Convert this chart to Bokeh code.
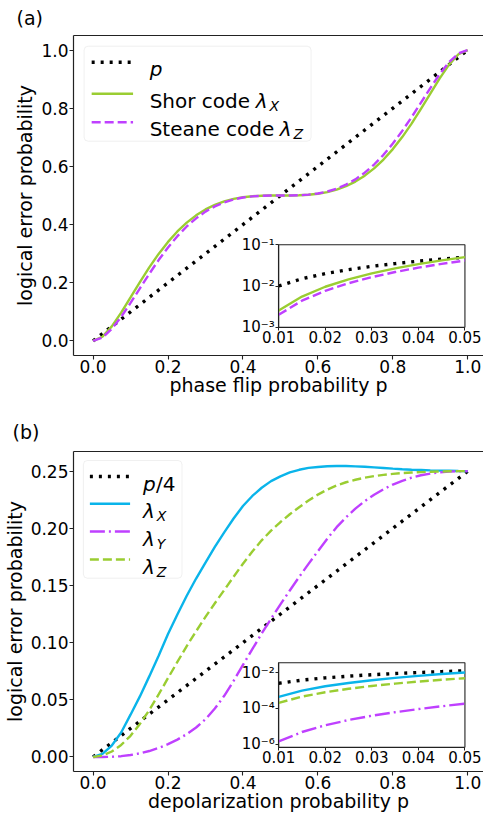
from bokeh.plotting import figure
from bokeh.models import (Range1d, LinearAxis, LogAxis, LogScale, FixedTicker,
                          PrintfTickFormatter, BoxAnnotation)
from bokeh.layouts import column
from bokeh.core.properties import value
from bokeh.embed import file_html
from bokeh.resources import INLINE

FONT = "DejaVu Sans"

# ---------------- data: panel (a) ----------------
pa = [0.0, 0.025, 0.05, 0.075, 0.1, 0.125, 0.15, 0.175, 0.2, 0.225, 0.25, 0.275, 0.3,
      0.325, 0.35, 0.375, 0.4, 0.425, 0.45, 0.475, 0.5, 0.525, 0.55, 0.575, 0.6, 0.625,
      0.65, 0.675, 0.7, 0.725, 0.75, 0.775, 0.8, 0.825, 0.85, 0.875, 0.9, 0.925, 0.95,
      0.975, 1.0]
shor_lx = [0.0, 0.014531, 0.050100, 0.097310, 0.149554, 0.202365, 0.252838, 0.299209,
           0.340519, 0.376370, 0.406738, 0.431845, 0.452066, 0.467863, 0.479755, 0.488282,
           0.494000, 0.497469, 0.499250, 0.499906, 0.5, 0.500094, 0.500750, 0.502531,
           0.506000, 0.511718, 0.520245, 0.532137, 0.547934, 0.568155, 0.593262, 0.623630,
           0.659481, 0.700791, 0.747162, 0.797635, 0.850446, 0.902690, 0.949900, 0.985469, 1.0]
steane_lz = [0.0, 0.011673, 0.041487, 0.082857, 0.130643, 0.180916, 0.230758, 0.278088,
             0.321498, 0.360126, 0.393555, 0.421666, 0.444614, 0.462728, 0.476456, 0.486351,
             0.493005, 0.497047, 0.499124, 0.499893, 0.5, 0.500107, 0.500876, 0.502953,
             0.506995, 0.513649, 0.523544, 0.537272, 0.555386, 0.578334, 0.606445, 0.639874,
             0.678502, 0.721912, 0.769242, 0.819084, 0.869357, 0.917143, 0.958513, 0.988327, 1.0]
pa_line_x = [0.0, 1.0]
pa_line_y = [0.0, 1.0]

ins_x = [0.01, 0.015, 0.02, 0.025, 0.03, 0.035, 0.04, 0.045, 0.05]
ins_a_p = [0.01, 0.015, 0.02, 0.025, 0.03, 0.035, 0.04, 0.045, 0.05]
ins_a_shor = [0.002543, 0.005553, 0.009581, 0.014531, 0.020311, 0.026835, 0.034024, 0.041804, 0.050100]
ins_a_steane = [0.002004, 0.004405, 0.007649, 0.011673, 0.016418, 0.021825, 0.027840, 0.034411, 0.041487]

# ---------------- data: panel (b) ----------------
pb = [0.0, 0.025, 0.05, 0.075, 0.1, 0.125, 0.15, 0.175, 0.2, 0.225, 0.25, 0.275, 0.3,
      0.325, 0.35, 0.375, 0.4, 0.425, 0.45, 0.475, 0.5, 0.525, 0.55, 0.575, 0.6, 0.625,
      0.65, 0.675, 0.7, 0.725, 0.75, 0.775, 0.8, 0.825, 0.85, 0.875, 0.9, 0.925, 0.95,
      0.975, 1.0]
lam_x = [0.0, 0.0027, 0.0100, 0.0214, 0.037, 0.053, 0.0705, 0.0886, 0.1075, 0.1247, 0.141,
         0.1561, 0.1700, 0.1837, 0.1965, 0.2086, 0.2195, 0.2283, 0.2355, 0.2413, 0.2455,
         0.2489, 0.2512, 0.2529, 0.2537, 0.2543, 0.2545, 0.2545, 0.2542, 0.2538, 0.2533,
         0.2528, 0.2522, 0.2517, 0.2513, 0.2510, 0.2507, 0.2505, 0.2503, 0.2501, 0.25]
lam_y = [0.0, 0.00002, 0.00018, 0.0007, 0.0017, 0.0032, 0.0052, 0.0079, 0.0112, 0.0152,
         0.0200, 0.0258, 0.0330, 0.0424, 0.0535, 0.0665, 0.0805, 0.0943, 0.1080, 0.1209,
         0.1335, 0.1456, 0.1575, 0.1689, 0.1800, 0.1909, 0.2010, 0.2096, 0.2172, 0.2238,
         0.2293, 0.2342, 0.2383, 0.2416, 0.2443, 0.2464, 0.2479, 0.2489, 0.2496, 0.2499, 0.25]
lam_z = [0.0, 0.0012, 0.0048, 0.0105, 0.0185, 0.0289, 0.041, 0.0547, 0.069, 0.0831, 0.097,
         0.1100, 0.1225, 0.1345, 0.146, 0.1577, 0.169, 0.1797, 0.1895, 0.1980, 0.2055,
         0.2123, 0.2185, 0.2243, 0.2295, 0.2339, 0.2375, 0.2403, 0.2425, 0.2443, 0.2457,
         0.2468, 0.2476, 0.2483, 0.2488, 0.2492, 0.2495, 0.2497, 0.2499, 0.2500, 0.25]
pb_line_x = [0.0, 1.0]
pb_line_y = [0.0, 0.25]

ins_b_quarter = [0.0025, 0.00375, 0.005, 0.00625, 0.0075, 0.00875, 0.01, 0.01125, 0.0125]
ins_b_lx = [4.3e-4, 9.6e-4, 1.7e-3, 2.6e-3, 3.7e-3, 5.0e-3, 6.5e-3, 8.2e-3, 1.0e-2]
ins_b_ly = [1.4e-6, 4.7e-6, 1.12e-5, 2.2e-5, 3.8e-5, 6.0e-5, 9.0e-5, 1.29e-4, 1.8e-4]
ins_b_lz = [2.0e-4, 4.5e-4, 7.9e-4, 1.23e-3, 1.77e-3, 2.4e-3, 3.1e-3, 3.9e-3, 4.8e-3]

# ---------------- ticks ----------------
xticks = [0.0, 0.2, 0.4, 0.6, 0.8, 1.0]
yticks_a = [0.0, 0.2, 0.4, 0.6, 0.8, 1.0]
yticks_b = [0.0, 0.05, 0.10, 0.15, 0.20, 0.25]
ins_xticks = [0.01, 0.02, 0.03, 0.04, 0.05]
ins_a_yticks = [1e-3, 1e-2, 1e-1]
ins_a_ylabels = ["10\u207b\u00b3", "10\u207b\u00b2", "10\u207b\u00b9"]
ins_b_yticks = [1e-6, 1e-4, 1e-2]
ins_b_ylabels = ["10\u207b\u2076", "10\u207b\u2074", "10\u207b\u00b2"]

# ---------------- styles / geometry (page pixels) ----------------
BLACK = "black"
GREEN = "#9ACD32"
PURPLE = "#BF40FF"
BLUE = "#0AB4EA"
SPINE = "#222222"
W_LINE = 2.4
W_DOT = 3.4
DOT = "3 6"
DASH = "9 4"
DASHDOT = "15 4 2 4"

FR_L, FR_R = 70.0, 483.0
XR = (-0.0522, 1.0419)
INS_L, INS_R = 276.7, 464.3

W = {"S": .635, "h": .634, "o": .612, "r": .411, " ": .318, "c": .550, "d": .635,
     "e": .615, "t": .392, "a": .613, "n": .634, "\u03bb": .592, "p": .635, "/": .337,
     "4": .636, "X": .686, "Y": .612, "Z": .686}


def tw(s, size):
    return sum(W.get(ch, 0.6) for ch in s) * size


def sx(px):
    return XR[0] + (px - FR_L) / (FR_R - FR_L) * (XR[1] - XR[0])


def make_sy(top, bottom, yr):
    return lambda py: yr[1] - (py - top) / (bottom - top) * (yr[1] - yr[0])


def inset_xr():
    k = (INS_R - INS_L) / (0.05 - 0.01)
    return (0.01 - (INS_L - FR_L) / k, 0.05 + (FR_R - INS_R) / k)


def inset_yr(it, ib, lt, lb, ft, fb):
    k = (ib - it) / (lt - lb)
    return (10 ** (lb - (fb - ib) / k), 10 ** (lt + (it - ft) / k))


def base_fig(height, top_border, bottom_border, yr, yticks, yfmt, xlabel,
             panel_tag, tag_left, tag_standoff):
    p = figure(width=483, height=height, x_range=Range1d(*XR), y_range=Range1d(*yr),
               output_backend="svg", toolbar_location=None,
               min_border_left=70, min_border_right=0,
               min_border_top=top_border, min_border_bottom=bottom_border)
    p.background_fill_color = "white"
    p.border_fill_color = "white"
    p.outline_line_color = None
    p.xgrid.visible = False
    p.ygrid.visible = False
    p.title.text = panel_tag
    p.title.align = "left"
    p.title.vertical_align = "top"
    p.title.offset = tag_left - FR_L
    p.title.standoff = tag_standoff
    p.title.text_font = FONT
    p.title.text_font_size = "19px"
    p.title.text_font_style = "normal"
    p.title.text_color = "black"
    for ax in (p.xaxis[0], p.yaxis[0]):
        ax.axis_line_color = SPINE
        ax.axis_line_width = 1.2
        ax.major_tick_line_color = SPINE
        ax.major_tick_line_width = 1.1
        ax.major_tick_out = 4
        ax.major_tick_in = 0
        ax.minor_tick_out = 0
        ax.minor_tick_in = 0
        ax.major_label_text_font = FONT
        ax.major_label_text_font_size = "17px"
        ax.major_label_text_color = "black"
        ax.axis_label_text_font = FONT
        ax.axis_label_text_font_size = "19px"
        ax.axis_label_text_font_style = "normal"
        ax.axis_label_text_color = "black"
    p.xaxis[0].ticker = FixedTicker(ticks=xticks)
    p.xaxis[0].formatter = PrintfTickFormatter(format="%.1f")
    p.xaxis[0].major_label_standoff = 0
    p.xaxis[0].axis_label_standoff = -2
    p.xaxis[0].axis_label = xlabel
    p.yaxis[0].ticker = FixedTicker(ticks=yticks)
    p.yaxis[0].formatter = PrintfTickFormatter(format=yfmt)
    p.yaxis[0].major_label_standoff = 1
    p.yaxis[0].axis_label_standoff = 2
    p.yaxis[0].axis_label = "logical error probability"
    top = LinearAxis(ticker=FixedTicker(ticks=[]), major_tick_out=0, major_tick_in=0,
                     minor_tick_out=0, minor_tick_in=0, axis_line_color=SPINE,
                     axis_line_width=1.2, major_label_standoff=0,
                     axis_label_standoff=0)
    p.add_layout(top, "above")
    return p


def add_inset(p, ybox, yr, yticks, ylabels):
    p.extra_x_ranges = {"ix": Range1d(*inset_xr())}
    p.extra_y_ranges = {"iy": Range1d(*yr)}
    p.extra_y_scales = {"iy": LogScale()}
    p.quad(left=[ins_xticks[0]], right=[ins_xticks[-1]], bottom=[ybox[0]], top=[ybox[1]],
           x_range_name="ix", y_range_name="iy", fill_color="white",
           line_color=SPINE, line_width=1.1)
    xa = LinearAxis(x_range_name="ix", y_range_name="iy", fixed_location=ybox[0],
                    bounds=(ins_xticks[0], ins_xticks[-1]),
                    ticker=FixedTicker(ticks=ins_xticks),
                    formatter=PrintfTickFormatter(format="%.2f"))
    ya = LogAxis(x_range_name="ix", y_range_name="iy", fixed_location=ins_xticks[0],
                 bounds=(ybox[0], ybox[1]), ticker=FixedTicker(ticks=yticks),
                 major_label_overrides=dict(zip(yticks, ylabels)))
    for ax in (xa, ya):
        ax.axis_line_color = SPINE
        ax.axis_line_width = 1.1
        ax.major_tick_line_color = SPINE
        ax.major_tick_out = 3
        ax.major_tick_in = 0
        ax.minor_tick_out = 0
        ax.minor_tick_in = 0
        ax.major_label_text_font = FONT
        ax.major_label_text_font_size = "15px"
        ax.major_label_text_color = "black"
        ax.major_label_standoff = 1
    p.add_layout(xa, "below")
    p.add_layout(ya, "left")


def legend_box(p, sy, l, r, t, b):
    box = BoxAnnotation(left=sx(l), right=sx(r), top=sy(t), bottom=sy(b),
                        fill_color="white", fill_alpha=0.8, line_color="#cccccc",
                        line_width=1, border_radius=4, level="underlay")
    p.add_layout(box)


def legend_row(p, sy, y, x0, x1, tx, color, width, dash, pieces):
    p.line([sx(x0), sx(x1)], [sy(y), sy(y)], line_color=color, line_width=width,
           line_dash=dash)
    x = tx
    base = y + 7
    for txt, style, size, dx, dy in pieces:
        x += dx
        p.text(x=[sx(x)], y=[sy(base + dy)], text=[txt], text_font=value(FONT),
               text_font_size=f"{size}px", text_font_style=style,
               text_baseline="alphabetic", text_align="left", text_color="black")
        x += tw(txt, size)


# ================= panel (a) : page rows 0..411 =================
YA = (-0.05, 1.05)
fa = base_fig(411, 35, 56, YA, yticks_a, "%.1f", "phase flip probability p",
              "(a)", 13, 9)
sya = make_sy(35, 355, YA)

fa.line(pa_line_x, pa_line_y, line_color=BLACK, line_width=W_DOT, line_dash=DOT)
fa.line(pa, shor_lx, line_color=GREEN, line_width=W_LINE)
fa.line(pa, steane_lz, line_color=PURPLE, line_width=W_LINE, line_dash=DASH)

add_inset(fa, (ins_a_yticks[0], ins_a_yticks[-1]),
          inset_yr(244.3, 326.7, -1.0, -3.0, 35, 355), ins_a_yticks, ins_a_ylabels)
fa.line(ins_x, ins_a_p, x_range_name="ix", y_range_name="iy", line_color=BLACK,
        line_width=W_DOT, line_dash=DOT)
fa.line(ins_x, ins_a_shor, x_range_name="ix", y_range_name="iy", line_color=GREEN,
        line_width=W_LINE)
fa.line(ins_x, ins_a_steane, x_range_name="ix", y_range_name="iy", line_color=PURPLE,
        line_width=W_LINE, line_dash=DASH)

legend_box(fa, sya, 80.7, 309.3, 45.7, 140.7)
legend_row(fa, sya, 61.7, 88.3, 130, 146.7, BLACK, W_DOT, DOT,
           [("p", "italic", 20, 0, 0)])
legend_row(fa, sya, 93.3, 88.3, 130, 146.7, GREEN, W_LINE, "solid",
           [("Shor code ", "normal", 20, 0, 0), ("\u03bb", "italic", 20, 0, 0),
            ("X", "italic", 14, 2, 5)])
legend_row(fa, sya, 121.7, 88.3, 130, 146.7, PURPLE, W_LINE, DASH,
           [("Steane code ", "normal", 20, 0, 0), ("\u03bb", "italic", 20, 0, 0),
            ("Z", "italic", 14, 2, 5)])

# ================= panel (b) : page rows 411..821 =================
YB = (-0.0127, 0.2672)
fb = base_fig(410, 40, 50, YB, yticks_b, "%.2f", "depolarization probability p",
              "(b)", 9, 13)
syb = make_sy(451, 771, YB)

fb.line(pb_line_x, pb_line_y, line_color=BLACK, line_width=W_DOT, line_dash=DOT)
fb.line(pb, lam_x, line_color=BLUE, line_width=W_LINE)
fb.line(pb, lam_y, line_color=PURPLE, line_width=W_LINE, line_dash=DASHDOT)
fb.line(pb, lam_z, line_color=GREEN, line_width=W_LINE, line_dash=DASH)

ybox_b = (10 ** -6.179, 10 ** -1.457)
add_inset(fb, ybox_b, inset_yr(662.3, 746.7, -1.457, -6.179, 451, 771),
          ins_b_yticks, ins_b_ylabels)
fb.line(ins_x, ins_b_quarter, x_range_name="ix", y_range_name="iy", line_color=BLACK,
        line_width=W_DOT, line_dash=DOT)
fb.line(ins_x, ins_b_lx, x_range_name="ix", y_range_name="iy", line_color=BLUE,
        line_width=W_LINE)
fb.line(ins_x, ins_b_ly, x_range_name="ix", y_range_name="iy", line_color=PURPLE,
        line_width=W_LINE, line_dash=DASHDOT)
fb.line(ins_x, ins_b_lz, x_range_name="ix", y_range_name="iy", line_color=GREEN,
        line_width=W_LINE, line_dash=DASH)

legend_box(fb, syb, 80, 179.3, 460, 577.7)
legend_row(fb, syb, 476, 86.5, 127, 140, BLACK, W_DOT, DOT,
           [("p", "italic", 20, 0, 0), ("/4", "normal", 20, 0.5, 0)])
legend_row(fb, syb, 503.3, 86.5, 127, 140, BLUE, W_LINE, "solid",
           [("\u03bb", "italic", 20, 0, 0), ("X", "italic", 14, 2, 5)])
legend_row(fb, syb, 531, 86.5, 127, 140, PURPLE, W_LINE, DASHDOT,
           [("\u03bb", "italic", 20, 0, 0), ("Y", "italic", 14, 2, 5)])
legend_row(fb, syb, 559, 86.5, 127, 140, GREEN, W_LINE, DASH,
           [("\u03bb", "italic", 20, 0, 0), ("Z", "italic", 14, 2, 5)])

layout = column(fa, fb, spacing=0)
open("out.html", "w").write(file_html(layout, INLINE))
